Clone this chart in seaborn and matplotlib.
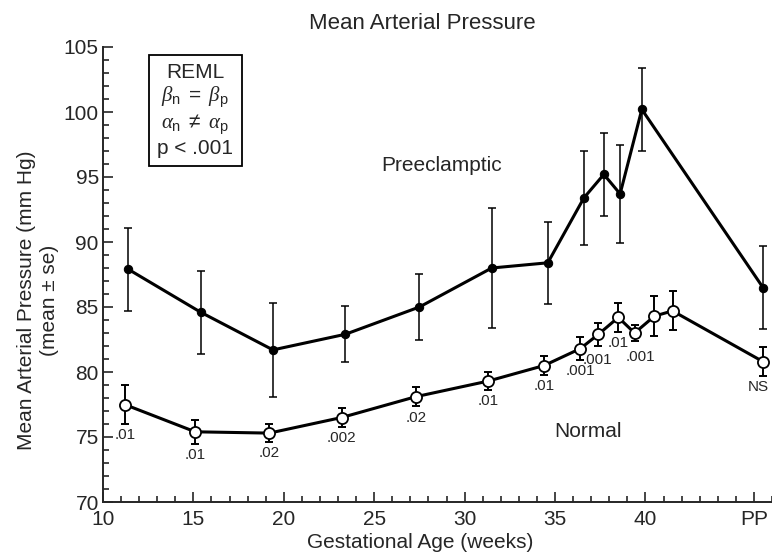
import numpy as np
import matplotlib
matplotlib.use('Agg')
import matplotlib.pyplot as plt
import seaborn as sns

# values (weeks, mean, se)
pre_weeks = [11.4, 15.4, 19.4, 23.4, 27.5, 31.5, 34.6, 36.6, 37.7, 38.6, 39.8, 46.5]
pre_mean = [87.9, 84.6, 81.7, 82.9, 85.0, 88.0, 88.4, 93.4, 95.2, 93.7, 100.2, 86.5]
pre_se = [3.2, 3.2, 3.6, 2.15, 2.55, 4.6, 3.15, 3.6, 3.2, 3.8, 3.2, 3.2]

norm_weeks = [11.2, 15.1, 19.2, 23.2, 27.3, 31.3, 34.4, 36.4, 37.4, 38.5, 39.4, 40.5, 41.5, 46.5]
norm_mean = [77.5, 75.4, 75.3, 76.5, 78.1, 79.3, 80.5, 81.8, 82.9, 84.2, 83.0, 84.3, 84.7, 80.8]
norm_se = [1.5, 0.9, 0.7, 0.7, 0.75, 0.7, 0.7, 0.9, 0.9, 1.1, 0.65, 1.55, 1.5, 1.1]
p_labels = ['.01', '.01', '.02', '.002', '.02', '.01', '.01', '.001', '.001', '.01', '.001', '', '', 'NS']

xtick_pos = [10, 15, 20, 25, 30, 35, 40, 46]
xtick_labels = ['10', '15', '20', '25', '30', '35', '40', 'PP']

sns.set_style('ticks')
plt.rcParams['font.family'] = ['Liberation Sans', 'DejaVu Sans']
plt.rcParams['mathtext.fontset'] = 'custom'
plt.rcParams['mathtext.rm'] = 'Liberation Sans'
plt.rcParams['mathtext.it'] = 'Liberation Serif:italic'
plt.rcParams['mathtext.bf'] = 'Liberation Sans:bold'

fig = plt.figure(figsize=(7.72, 5.56), dpi=100)
ax = fig.add_axes([103/772, 1-502/556, 669/772, 455/556])

#error bars first so the open markers sit on top
ax.errorbar(pre_weeks, pre_mean, yerr=pre_se, fmt='none', ecolor='black',
            elinewidth=1.1, capsize=3, capthick=1.1, zorder=1.5)
ax.errorbar(norm_weeks, norm_mean, yerr=norm_se, fmt='none', ecolor='black',
            elinewidth=1.4, capsize=3, capthick=1.4, zorder=1.5)

sns.lineplot(x=pre_weeks, y=pre_mean, ax=ax, color='black', lw=2.2,
             marker='o', markersize=6, markerfacecolor='black',
             markeredgecolor='black', zorder=3)
sns.lineplot(x=norm_weeks, y=norm_mean, ax=ax, color='black', lw=2.2,
             marker='o', markersize=8, markerfacecolor='white',
             markeredgecolor='black', markeredgewidth=1.3, zorder=3)

# p-values under the normal points; nudge the crowded ones a little
nudge = {8: (-1, -5), 10: (4, -6), 13: (-3, -3)}
for i, (x, m, s, lbl) in enumerate(zip(norm_weeks, norm_mean, norm_se, p_labels)):
    if lbl:
        ax.annotate(lbl, (x, m - s), xytext=nudge.get(i, (0, -3)), textcoords='offset points',
                    ha='center', va='top', fontsize=11)

ax.text(28.7, 95.9, 'Preeclamptic', ha='center', va='center', fontsize=15)
ax.text(36.8, 75.4, 'Normal', ha='center', va='center', fontsize=15)

ax.text(15.1, 100.1,
        'REML\n$\\beta_{\\rm n}\\ =\\ \\beta_{\\rm p}$\n$\\alpha_{\\rm n}\\ \\neq\\ \\alpha_{\\rm p}$\np < .001',
        ha='center', va='center', multialignment='center', fontsize=15, linespacing=1.15,
        bbox=dict(boxstyle='square,pad=0.4', facecolor='white', edgecolor='black', lw=1.3))

ax.set_xlim(10, 47)
ax.set_ylim(70, 105)
ax.set_xticks(xtick_pos)
ax.set_xticklabels(xtick_labels)
ax.set_xticks(np.arange(10, 48), minor=True)
ax.set_yticks(np.arange(70, 106, 5))
ax.set_yticks(np.arange(70, 106), minor=True)
ax.tick_params(which='both', direction='in', width=1.2, labelsize=15)
ax.tick_params(axis='y', which='major', length=7, pad=3)
ax.tick_params(axis='x', which='major', length=7, pad=6)
ax.tick_params(which='minor', length=4)
sns.despine(ax=ax)
for sp in ['left', 'bottom']:
    ax.spines[sp].set_linewidth(1.4)

ax.set_title('Mean Arterial Pressure', fontsize=16, x=0.478, pad=13)
ax.set_xlabel('Gestational Age (weeks)', fontsize=15)
ax.xaxis.set_label_coords(0.474, -0.068)
ax.xaxis.label.set_va('top')
ax.set_ylabel('Mean Arterial Pressure (mm Hg)\n(mean \u00b1 se)', fontsize=15, linespacing=1.25)
ax.yaxis.label.set_va('center')
ax.yaxis.set_label_coords(-0.097, 0.444)

fig.savefig('out.png', dpi=100)
